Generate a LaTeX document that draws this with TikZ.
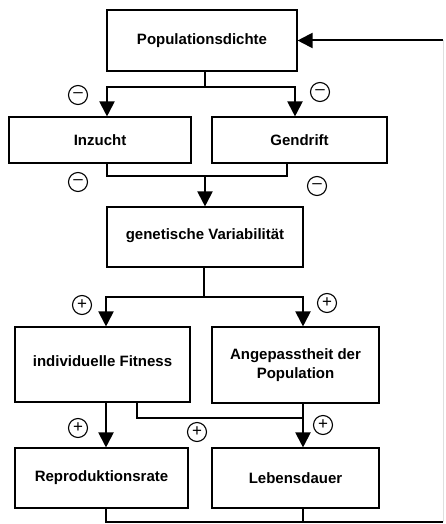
\documentclass[tikz,border=0pt]{standalone}
\usepackage{fontspec}
\setmainfont{Liberation Sans}
\usetikzlibrary{arrows.meta}
\begin{document}
\begin{tikzpicture}[x=1pt,y=-1pt,
 box/.style={draw,line width=1.1pt,inner sep=0pt,align=center,font=\fontsize{15}{19}\selectfont\bfseries},
 ln/.style={line width=2pt},
 arr/.style={line width=2pt,-{Triangle[width=15pt,length=15pt]}},
 sgn/.style={circle,draw,line width=1.1pt,minimum size=19pt,inner sep=0pt,font=\fontsize{17}{17}\selectfont}]
\useasboundingbox (0,0) rectangle (446,524);
\node[box,minimum width=190pt,minimum height=61pt] (pop) at (202,40.5) {Populationsdichte};
\node[box,minimum width=182pt,minimum height=46pt] (inz) at (100,140) {Inzucht};
\node[box,minimum width=175pt,minimum height=46pt] (gen) at (299.5,140) {Gendrift};
\node[box,minimum width=196pt,minimum height=60pt] (gv) at (205,237) {\raisebox{5pt}{genetische Variabilität}};
\node[box,minimum width=175pt,minimum height=75pt] (ind) at (102.5,364.5) {\raisebox{6pt}{individuelle Fitness}};
\node[box,minimum width=167pt,minimum height=76pt] (ang) at (295.5,365) {Angepasstheit der\\Population};
\node[box,minimum width=173pt,minimum height=60pt] (rep) at (101.5,478) {Reproduktionsrate};
\node[box,minimum width=167pt,minimum height=60pt] (leb) at (295.5,478) {Lebensdauer};
% stage 1
\coordinate (a0) at (205,87); \coordinate (a1) at (107,87); \coordinate (a2) at (295,87);
\draw[arr] (a0 |- pop.south) -- (a0) -| (a1 |- inz.north);
\draw[arr] (a0) -| (a2 |- gen.north);
% stage 2
\coordinate (b0) at (205,176); \coordinate (b1) at (107,176); \coordinate (b2) at (287,176);
\draw[ln] (b1 |- inz.south) |- (b2) -- (b2 |- gen.south);
\draw[arr] (b0) -- (b0 |- gv.north);
% stage 3
\coordinate (c0) at (204,297); \coordinate (c1) at (106,297); \coordinate (c2) at (303,297);
\draw[arr] (c0 |- gv.south) -- (c0) -| (c1 |- ind.north);
\draw[arr] (c0) -| (c2 |- ang.north);
% stage 4
\coordinate (d1) at (106,402); \coordinate (d2) at (137,418); \coordinate (d3) at (303,418);
\draw[arr] (d1 |- ind.south) -- (d1 |- rep.north);
\draw[ln] (d2 |- ind.south) |- (d3);
\draw[arr] (d3 |- ang.south) -- (d3 |- leb.north);
% feedback
\coordinate (e1) at (106,522); \coordinate (e2) at (303,522); \coordinate (e3) at (443,522); \coordinate (e4) at (443,40.5);
\draw[ln] (e1 |- rep.south) -- (e1) -- (e3);
\draw[ln] (e2 |- leb.south) -- (e2);
\draw[line width=1pt,gray!25] (e3) -- (e4);
\draw[arr] (e4) -- (pop.east);
% signs
\node[sgn] (m1) at (78,95) {\textendash};
\node[sgn] (m2) at (320,92) {\textendash};
\node[sgn] (m3) at (78,182) {\textendash};
\node[sgn] (m4) at (317,186) {\textendash};
\node[sgn] (p1) at (82,305) {+};
\node[sgn] (p2) at (327,303) {+};
\node[sgn] (p3) at (78,428) {+};
\node[sgn] (p4) at (197,432) {+};
\node[sgn] (p5) at (323,425) {+};
\end{tikzpicture}
\end{document}
